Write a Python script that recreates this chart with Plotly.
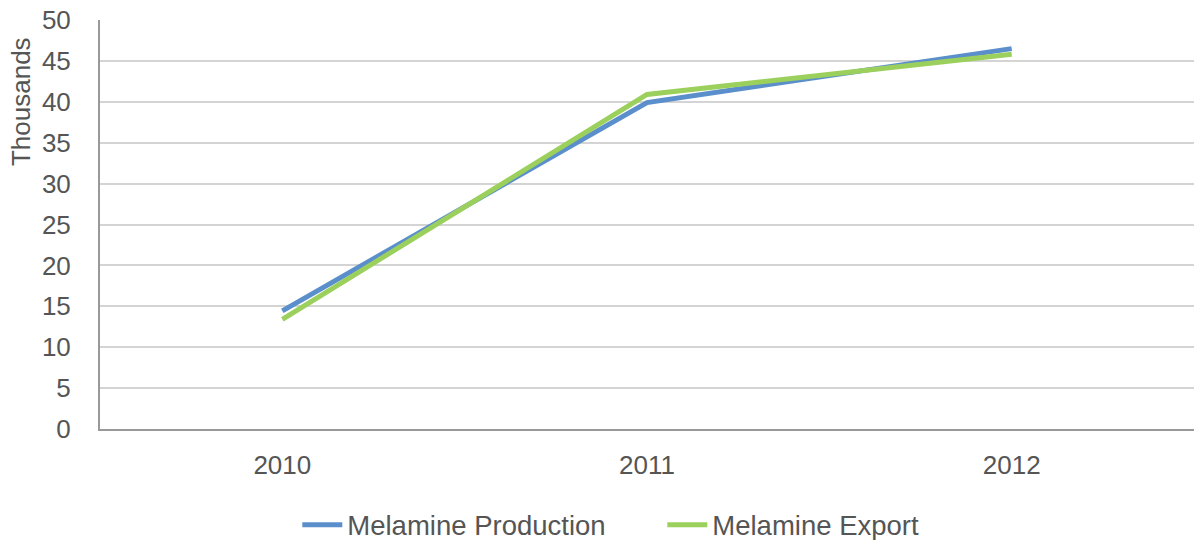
import plotly.graph_objects as go

years = ["2010", "2011", "2012"]
production = [14.45, 39.9, 46.5]
export = [13.4, 40.9, 45.8]

FONT = "Liberation Sans, Arial, Helvetica, sans-serif"
TEXT = "#555555"
SIZE = 26

fig = go.Figure()
fig.add_trace(go.Scatter(
    x=years, y=production, mode="lines", name="Melamine Production",
    line=dict(color="#5A8FCC", width=5),
))
fig.add_trace(go.Scatter(
    x=years, y=export, mode="lines", name="Melamine Export",
    line=dict(color="#9BD05C", width=5),
))

fig.update_layout(
    width=1194, height=540,
    margin=dict(l=100, r=0, t=20, b=111),
    paper_bgcolor="white", plot_bgcolor="white",
    font=dict(family=FONT, size=SIZE, color=TEXT),
    legend=dict(
        orientation="h", xref="container", yref="container",
        x=0.249, xanchor="left", y=0.028, yanchor="middle",
        font=dict(family=FONT, size=27.5, color=TEXT),
        itemwidth=40, traceorder="normal", entrywidth=310,
    ),
    showlegend=True,
    annotations=[dict(
        text="Thousands", textangle=-90, showarrow=False,
        xref="paper", yref="paper", x=-0.072, y=0.80,
        xanchor="center", yanchor="middle",
        font=dict(family=FONT, size=SIZE, color=TEXT),
    )],
)
fig.update_xaxes(
    type="category", range=[-0.5, 2.5],
    showgrid=False, showline=True, linecolor="#999999", linewidth=2,
    ticks="", ticklabelstandoff=12,
    tickfont=dict(family=FONT, size=SIZE, color=TEXT),
)
fig.update_yaxes(
    range=[0, 50], dtick=5, tick0=0,
    showgrid=True, gridcolor="#D4D4D4", gridwidth=2,
    showline=True, linecolor="#999999", linewidth=2,
    zeroline=False, ticks="", ticklabelstandoff=22,
    tickfont=dict(family=FONT, size=SIZE, color=TEXT),
)

fig.write_html("out.html")
